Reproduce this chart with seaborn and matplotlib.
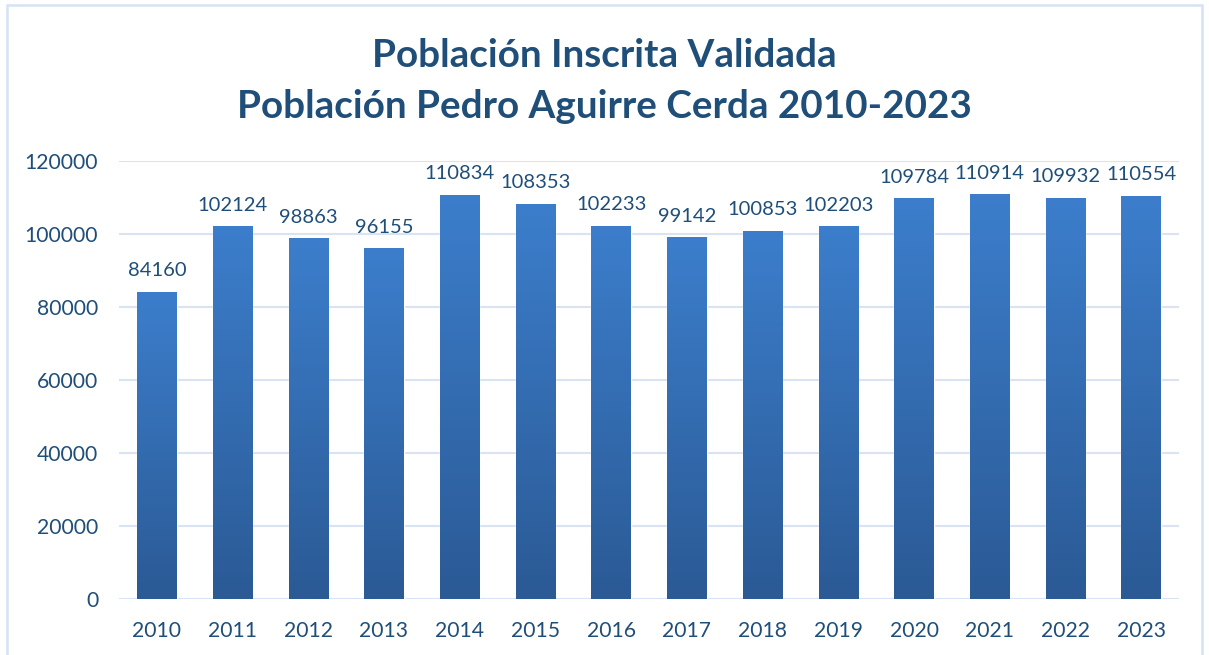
import numpy as np
import pandas as pd
import seaborn as sns
import matplotlib.pyplot as plt
from matplotlib.colors import LinearSegmentedColormap
from matplotlib.patches import Rectangle

years = ["2010", "2011", "2012", "2013", "2014", "2015", "2016",
         "2017", "2018", "2019", "2020", "2021", "2022", "2023"]
poblacion = [84160, 102124, 98863, 96155, 110834, 108353, 102233,
             99142, 100853, 102203, 109784, 110914, 109932, 110554]

df = pd.DataFrame({"year": years, "poblacion": poblacion})

sns.set_style("white")
plt.rcParams["font.family"] = ["Lato", "DejaVu Sans"]

text_col = "#1F4E79"
grid_col = "#D9E3F3"

fig = plt.figure(figsize=(12.09, 6.55), dpi=100)
ax = fig.add_axes([0.0984, 0.0855, 0.8768, 0.6685])

sns.barplot(data=df, x="year", y="poblacion", color="#3A7AC7",
            width=0.52, saturation=1, ax=ax, zorder=3)

# vertical gradient on every bar
cmap = LinearSegmentedColormap.from_list("bar", ["#2B5A95", "#3C7ECC"])
grad = np.linspace(0, 1, 256).reshape(-1, 1)
for p in ax.patches:
    x0, w, h = p.get_x(), p.get_width(), p.get_height()
    im = ax.imshow(grad, cmap=cmap, origin="lower", aspect="auto",
                   extent=[x0, x0 + w, 0, h], zorder=4)
    im.set_clip_path(p)
    ax.annotate(f"{int(h)}", (x0 + w / 2, h), xytext=(0, 9),
                textcoords="offset points", ha="center", va="bottom",
                fontsize=14.5, color=text_col)

ax.set_xlim(-0.5, len(years) - 0.5)
ax.set_ylim(0, 120000)
ax.set_yticks(range(0, 120001, 20000))
ax.yaxis.grid(True, color=grid_col, linewidth=1.5, zorder=0)
ax.set_axisbelow(True)
for s in ax.spines.values():
    s.set_visible(False)
ax.tick_params(axis="both", length=0, labelsize=15.2, labelcolor=text_col)
ax.tick_params(axis="y", pad=15)
ax.tick_params(axis="x", pad=16)
ax.set_xlabel("")
ax.set_ylabel("")

fig.text(0.5, 0.916, "Población Inscrita Validada", ha="center", va="center",
         fontsize=27.8, fontweight="bold", color=text_col)
fig.text(0.5, 0.838, "Población Pedro Aguirre Cerda 2010-2023", ha="center",
         va="center", fontsize=27.8, fontweight="bold", color=text_col)

fig.patches.append(Rectangle((7 / 1209, -0.05), 1195 / 1209, 1.05 - 5 / 655,
                             transform=fig.transFigure, fill=False,
                             edgecolor="#D5E3F4", linewidth=1.8))

fig.savefig("out.png", dpi=100)
